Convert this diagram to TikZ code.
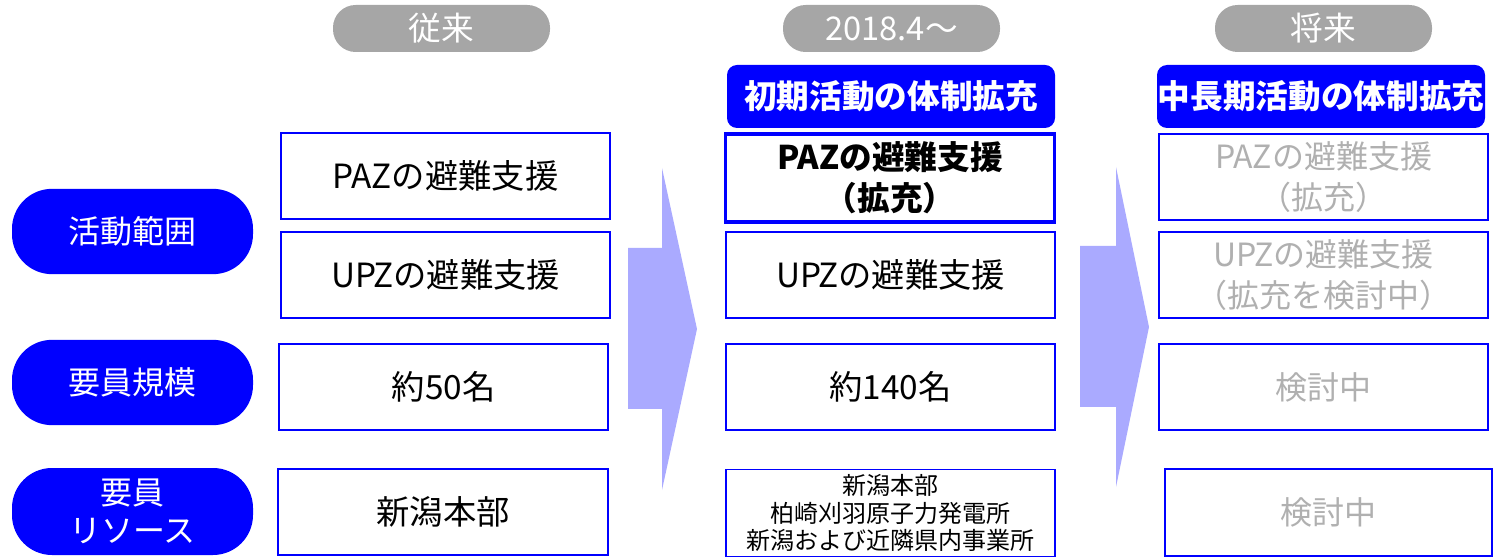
\documentclass[tikz,border=0pt]{standalone}
\usepackage{fontspec}
\setmainfont{Noto Sans CJK JP}
\definecolor{pblue}{RGB}{0,0,255}
\definecolor{pgray}{RGB}{166,166,166}
\definecolor{tgray}{RGB}{176,176,176}
\definecolor{arrowc}{RGB}{170,170,255}
\tikzset{
  cell/.style={draw=pblue, line width=1.3pt, fill=white, inner sep=0pt, outer sep=0pt, align=center,
    minimum width=246.75pt, minimum height=64.5pt, font=\fontsize{25}{30}\selectfont},
  cellthick/.style={cell, line width=2.6pt, font=\bfseries\fontsize{24.5}{31}\selectfont},
  ghost/.style={cell, text=tgray, font=\fontsize{24}{31}\selectfont},
  rowlabel/.style={fill=pblue, rounded corners=30pt, inner sep=0pt, outer sep=0pt, align=center,
    minimum width=180.75pt, minimum height=64pt, text=white, font=\fontsize{24}{28.5}\selectfont},
  period/.style={fill=pgray, rounded corners=17pt, inner sep=0pt, outer sep=0pt, text=white,
    minimum width=162.75pt, minimum height=35.25pt, font=\fontsize{24.5}{27}\selectfont},
  header/.style={fill=pblue, rounded corners=7.5pt, inner sep=0pt, outer sep=0pt, text=white,
    minimum width=246pt, minimum height=47.25pt, font=\bfseries\fontsize{24.5}{28}\selectfont},
}
\begin{document}
\begin{tikzpicture}[x=0.75pt, y=-0.75pt]
\useasboundingbox (0,0) rectangle (1506,559);
% big arrows
\fill[arrowc] (628,248) -- (662,248) -- (662,168) -- (697,329) -- (662,490) -- (662,409) -- (628,409) -- cycle;
\fill[arrowc] (1080,246) -- (1116,246) -- (1116,167) -- (1149,327) -- (1116,487) -- (1116,407) -- (1080,407) -- cycle;
% period pills
\node[period] (p1) at (441.5,28.5) {従来};
\node[period] (p2) at (891.5,28.5) {2018.4～};
\node[period] (p3) at (1323.5,28.5) {将来};
% headers
\node[header] (h2) at (891,96.5) {初期活動の体制拡充};
\node[header] (h3) at (1321,96.5) {中長期活動の体制拡充};
% row labels
\node[rowlabel] (r1) at (132.5,231.5) {活動範囲};
\node[rowlabel] (r2) at (132.5,382.5) {要員規模};
\node[rowlabel, minimum height=65.25pt] (r3) at (132.5,511.5) {要員\\リソース};
% left column
\node[cell] (a1) at (445.5,176) {PAZの避難支援};
\node[cell] (a2) at (445.5,275) {UPZの避難支援};
\node[cell] (a3) at (443.5,387) {約50名};
\node[cell, minimum width=247.5pt] (a4) at (443,512) {新潟本部};
% middle column
\node[cellthick, minimum height=66pt] (b1) at (890,178) {PAZの避難支援\\（拡充）};
\node[cell] (b2) at (890.5,275) {UPZの避難支援};
\node[cell] (b3) at (890.5,387) {約140名};
\node[cell, minimum height=65.25pt, font=\fontsize{18}{20.8}\selectfont] (b4) at (890.5,513) {新潟本部\\柏崎刈羽原子力発電所\\新潟および近隣県内事業所};
% right column
\node[ghost] (c1) at (1323.5,177) {PAZの避難支援\\（拡充）};
\node[ghost] (c2) at (1323.5,275) {UPZの避難支援\\（拡充を検討中）};
\node[ghost] (c3) at (1323.5,387) {検討中};
\node[ghost, minimum width=245.25pt, minimum height=65.25pt] (c4) at (1328.5,512.5) {検討中};
\end{tikzpicture}
\end{document}
